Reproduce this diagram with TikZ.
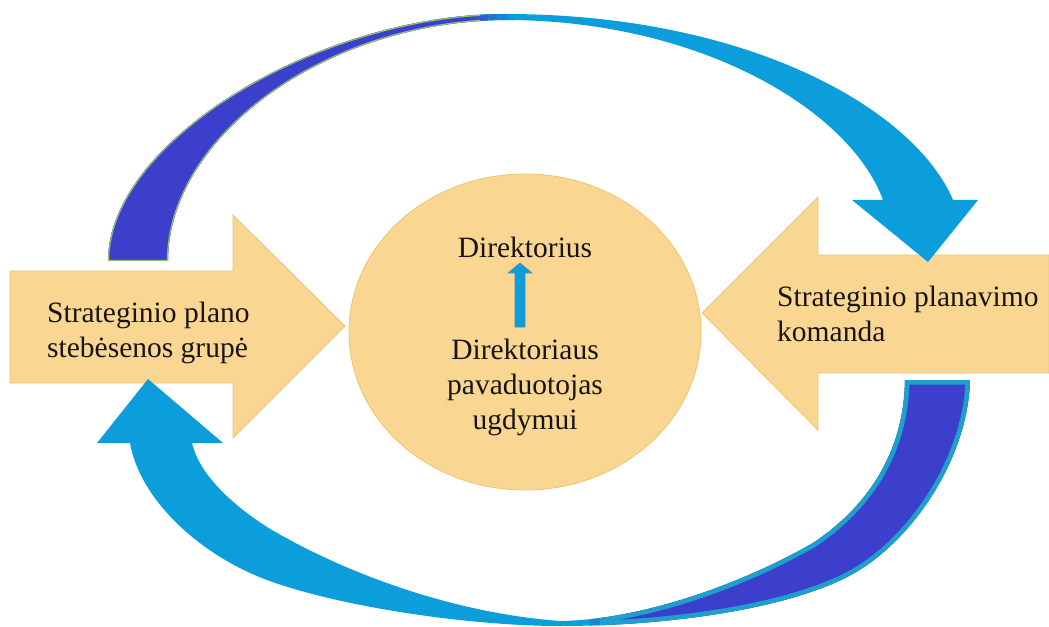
\documentclass[tikz,border=0pt]{standalone}
\usepackage{fontspec}
\newfontfamily\fa{Liberation Serif}
\newfontfamily\fb{DejaVu Serif}
\newfontfamily\fc{Latin Modern Roman}
\usetikzlibrary{shapes.geometric}
\definecolor{orfill}{RGB}{249,214,146}
\definecolor{oredge}{RGB}{238,196,112}
\definecolor{dblue}{RGB}{60,63,204}
\definecolor{lblue}{RGB}{12,157,219}
\definecolor{tealb}{RGB}{30,160,205}
\definecolor{greenb}{RGB}{150,190,110}
\definecolor{txtc}{RGB}{25,20,20}
\tikzset{
  orshape/.style={fill=orfill, draw=oredge, line width=0.8bp},
  txt/.style={text=txtc, inner sep=0pt, font=\fontsize{29.5bp}{35bp}\selectfont},
}
\begin{document}
\begin{tikzpicture}[x=1bp,y=-1bp]
\useasboundingbox (0,0) rectangle (1049,627);
% orange block arrows
\path[orshape] (10,271) -- (233,271) -- (233,215) -- (345,326) -- (233,438) -- (233,383) -- (10,383) -- cycle;
\path[orshape] (1049,255) -- (818,255) -- (818,197) -- (702,313) -- (818,430) -- (818,373) -- (1049,373) -- cycle;
% central circle
\node[ellipse, orshape, minimum width=352bp, minimum height=316bp, inner sep=0pt] (circ) at (525,332) {};
% top curved arrow
\path[save path=\toppath] (108,261) .. controls (108,140) and (320,14) .. (505,14)
  .. controls (750,14) and (915,110) .. (953,200) -- (978,200) -- (928,262) -- (852,200) -- (883,200)
  .. controls (850,110) and (700,20) .. (505,20) .. controls (320,22) and (168,140) .. (168,261) -- cycle;
\fill[lblue, use path=\toppath];
\begin{scope}
  \clip[use path=\toppath];
  \fill[dblue] (0,0) rectangle (470,300);
  \fill[dblue!85!lblue] (470,0) rectangle (479,300);
  \fill[dblue!65!lblue] (479,0) rectangle (488,300);
  \fill[dblue!45!lblue] (488,0) rectangle (497,300);
  \fill[dblue!25!lblue] (497,0) rectangle (506,300);
  \fill[dblue!10!lblue] (506,0) rectangle (515,300);
  \begin{scope}
    \clip (0,0) rectangle (480,300);
    \draw[greenb, line width=2.4bp, use path=\toppath];
  \end{scope}
\end{scope}
% bottom curved arrow
\path[save path=\botpath] (970,380) .. controls (968,460) and (910,545) .. (847,577)
  .. controls (780,611) and (660,626) .. (560,626) .. controls (470,626) and (340,607) .. (267,580)
  .. controls (200,555) and (140,500) .. (130,443) -- (97,443) -- (148,379) -- (223,443) -- (192,443)
  .. controls (198,470) and (225,500) .. (267,527) .. controls (330,565) and (440,612) .. (560,621)
  .. controls (640,620) and (740,585) .. (813,543) .. controls (870,505) and (904,450) .. (905,380) -- cycle;
\fill[lblue, use path=\botpath];
\begin{scope}
  \clip[use path=\botpath];
  \fill[dblue] (620,300) rectangle (1049,627);
  \fill[lblue!75!dblue] (590,300) rectangle (600,627);
  \fill[lblue!50!dblue] (600,300) rectangle (610,627);
  \fill[lblue!25!dblue] (610,300) rectangle (620,627);
  \begin{scope}
    \clip (600,300) rectangle (1049,627);
    \draw[tealb, line width=9bp, use path=\botpath];
  \end{scope}
\end{scope}
% small arrow
\coordinate (sa) at (520,327);
\coordinate (sb) at (520,263);
\fill[lblue, draw=gray!60!lblue, line width=0.6bp] (515,327) -- (515,273) -- (508,273) -- (sb) -- (532,273) -- (525,273) -- (525,327) -- cycle;
% texts
\node[txt, align=left, anchor=west] (lt) at (47,332.5) {\fa Strateginio plano\\\fa stebėsenos grupė};
\node[txt, align=left, anchor=west] (rt) at (777,314) {\fa Strateginio planavimo\\\fa komanda};
\node[txt] (dir) at (525,247) {\fa Direktorius};
\node[txt, align=center] (dep) at (525,387) {\fa Direktoriaus\\\fa pavaduotojas\\\fa ugdymui};
\end{tikzpicture}
\end{document}
